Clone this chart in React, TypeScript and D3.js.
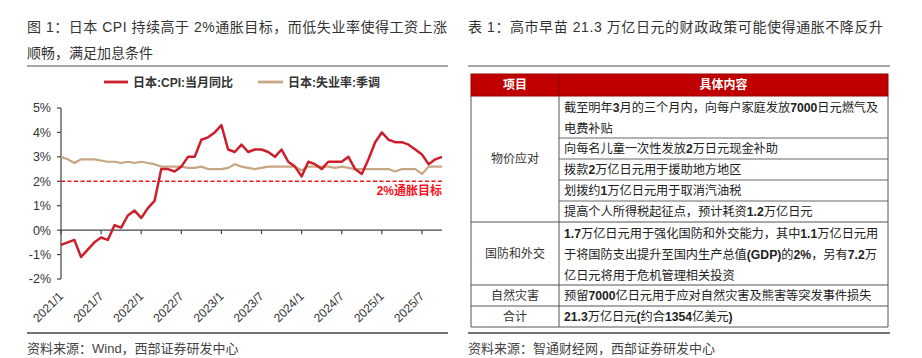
import React from "react";
import * as d3 from "d3";

// ---------- Data ----------
const cpiYoY: number[] = [
  -0.6, -0.5, -0.4, -1.1, -0.8, -0.5, -0.3, -0.4, 0.2, 0.1, 0.6, 0.8,
  0.5, 0.9, 1.2, 2.5, 2.5, 2.4, 2.6, 3.0, 3.0, 3.7, 3.8, 4.0,
  4.3, 3.3, 3.2, 3.5, 3.2, 3.3, 3.3, 3.2, 3.0, 3.3, 2.8, 2.6,
  2.2, 2.8, 2.7, 2.5, 2.8, 2.8, 2.8, 3.0, 2.5, 2.3, 2.9, 3.6,
  4.0, 3.7, 3.6, 3.6, 3.5, 3.3, 3.1, 2.7, 2.9, 3.0,
];
const unemployment: number[] = [
  3.0, 2.9, 2.75, 2.9, 2.9, 2.9, 2.85, 2.8, 2.8, 2.75, 2.8, 2.75,
  2.8, 2.75, 2.7, 2.6, 2.6, 2.6, 2.6, 2.55, 2.55, 2.6, 2.5, 2.5,
  2.5, 2.55, 2.7, 2.6, 2.55, 2.5, 2.55, 2.6, 2.6, 2.6, 2.6, 2.6,
  2.45, 2.6, 2.6, 2.6, 2.6, 2.55, 2.6, 2.55, 2.5, 2.5, 2.5, 2.5,
  2.5, 2.5, 2.4, 2.5, 2.5, 2.5, 2.3, 2.6, 2.6, 2.6,
];
const xTickLabels = [
  "2021/1", "2021/7", "2022/1", "2022/7", "2023/1",
  "2023/7", "2024/1", "2024/7", "2025/1", "2025/7",
];
const xTickStep = 6;
const yTicks = [-2, -1, 0, 1, 2, 3, 4, 5];
const inflationTarget = 2;
const targetLabel = "2%通胀目标";
const seriesNames = ["日本:CPI:当月同比", "日本:失业率:季调"];

const chartTitle1 = "图 1：日本 CPI 持续高于 2%通胀目标，而低失业率使得工资上涨";
const chartTitle2 = "顺畅，满足加息条件";
const chartSource = "资料来源：Wind，西部证券研发中心";

const tableTitle = "表 1：高市早苗 21.3 万亿日元的财政政策可能使得通胀不降反升";
const tableHeaders = ["项目", "具体内容"];
const tableGroupNames = ["物价应对", "国防和外交", "自然灾害", "合计"];
const tableGroupRows: string[][][] = [
  [
    ["截至明年3月的三个月内，向每户家庭发放7000日元燃气及", "电费补贴"],
    ["向每名儿童一次性发放2万日元现金补助"],
    ["拨款2万亿日元用于援助地方地区"],
    ["划拨约1万亿日元用于取消汽油税"],
    ["提高个人所得税起征点，预计耗资1.2万亿日元"],
  ],
  [
    [
      "1.7万亿日元用于强化国防和外交能力，其中1.1万亿日元用",
      "于将国防支出提升至国内生产总值(GDP)的2%，另有7.2万",
      "亿日元将用于危机管理相关投资",
    ],
  ],
  [["预留7000亿日元用于应对自然灾害及熊害等突发事件损失"]],
  [["21.3万亿日元(约合1354亿美元)"]],
];
const tableSource = "资料来源：智通财经网，西部证券研发中心";

// ---------- Styles ----------
const FONT = "'Liberation Sans', 'Noto Sans CJK SC', sans-serif";
const CPI_COLOR = "#cc1f2b";
const UNEMP_COLOR = "#c7a684";
const TARGET_COLOR = "#f2141c";
const TEXT = "#333";

// bold the ASCII runs (digits, latin, %, parentheses) like the reference
function richText(s: string, keyBase: string) {
  const parts = s.split(/([0-9A-Za-z.%()]+)/).filter((p) => p.length > 0);
  return parts.map((p, i) =>
    /^[0-9A-Za-z.%()]+$/.test(p) ? (
      <tspan key={`${keyBase}-${i}`} fontWeight="bold">
        {p}
      </tspan>
    ) : (
      <tspan key={`${keyBase}-${i}`}>{p}</tspan>
    )
  );
}

export default function App() {
  const x = d3.scaleLinear().domain([0, cpiYoY.length - 1]).range([61, 442]);
  const y = d3.scaleLinear().domain([-2, 5]).range([279, 108]);
  const line = d3
    .line<number>()
    .x((_, i) => x(i))
    .y((d) => y(d))
    .curve(d3.curveLinear);

  // table layout
  const tX0 = 471;
  const tX1 = 888;
  const tXDiv = 559;
  const headTop = 74;
  const headH = 22;
  const lineH = 21;

  const tableEls: React.ReactNode[] = [];
  let cy = headTop + headH;
  tableGroupRows.forEach((rows, gi) => {
    const gTop = cy;
    rows.forEach((lines, ri) => {
      const h = lines.length * lineH;
      const rTop = cy;
      lines.forEach((ln, li) => {
        const c = rTop + lineH / 2 + li * lineH + (lines.length > 1 ? 1.5 : 0);
        tableEls.push(
          <text key={`t${gi}-${ri}-${li}`} x={tXDiv + 5} y={c} dy="0.36em" fontSize={12.2} fill="#222">
            {richText(ln, `t${gi}-${ri}-${li}`)}
          </text>
        );
      });
      cy += h;
      if (ri < rows.length - 1) {
        tableEls.push(
          <line key={`rl${gi}-${ri}`} x1={tXDiv} x2={tX1} y1={cy} y2={cy} stroke="#666" strokeWidth={1} />
        );
      }
    });
    tableEls.push(
      <text key={`g${gi}`} x={(tX0 + tXDiv) / 2} y={(gTop + cy) / 2} dy="0.36em" fontSize={12} fill={TEXT} textAnchor="middle">
        {tableGroupNames[gi]}
      </text>
    );
    tableEls.push(
      <line key={`gl${gi}`} x1={tX0} x2={tX1} y1={cy} y2={cy} stroke="#555" strokeWidth={1} />
    );
  });
  const tableBottom = cy;

  return (
    <svg width={922} height={358} style={{ position: "absolute", left: 0, top: 0, background: "#fff" }} fontFamily={FONT}>
      {/* Left titles */}
      <text x={27} y={32} fontSize={14} fill={TEXT} textLength={420} lengthAdjust="spacing">
        {chartTitle1}
      </text>
      <text x={27} y={58} fontSize={14} fill={TEXT}>
        {chartTitle2}
      </text>
      <line x1={27} x2={448} y1={66} y2={66} stroke="#888" strokeWidth={1.5} />

      {/* Legend */}
      <line x1={104} x2={128} y1={82} y2={82} stroke={CPI_COLOR} strokeWidth={2.8} />
      <text x={133} y={86.5} fontSize={12} fontWeight="bold" fill={TEXT}>
        {seriesNames[0]}
      </text>
      <line x1={258} x2={283} y1={82} y2={82} stroke={UNEMP_COLOR} strokeWidth={2.8} />
      <text x={288} y={86.5} fontSize={12} fontWeight="bold" fill={TEXT}>
        {seriesNames[1]}
      </text>

      {/* Y axis */}
      <line x1={x(0)} x2={x(0)} y1={y(5)} y2={y(-2)} stroke="#444" strokeWidth={1.2} />
      {yTicks.map((t) => (
        <g key={`y${t}`}>
          <line x1={x(0) - 4} x2={x(0)} y1={y(t)} y2={y(t)} stroke="#444" strokeWidth={1.2} />
          <text x={51} y={y(t)} dy="0.35em" fontSize={12.5} fill={TEXT} textAnchor="end">
            {`${t}%`}
          </text>
        </g>
      ))}

      {/* X axis at 0 */}
      <line x1={x(0)} x2={x(cpiYoY.length - 1)} y1={y(0)} y2={y(0)} stroke="#444" strokeWidth={1.2} />
      {xTickLabels.map((lab, i) => {
        const xi = x(i * xTickStep);
        return (
          <g key={lab}>
            <line x1={xi} x2={xi} y1={y(0)} y2={y(0) + 4} stroke="#444" strokeWidth={1.2} />
            <text
              transform={`translate(${xi + 3},${297}) rotate(-45)`}
              fontSize={12}
              fill={TEXT}
              textAnchor="end"
            >
              {lab}
            </text>
          </g>
        );
      })}

      {/* Target line */}
      <line
        x1={x(0)}
        x2={x(cpiYoY.length - 1)}
        y1={y(inflationTarget)}
        y2={y(inflationTarget)}
        stroke={TARGET_COLOR}
        strokeWidth={1.5}
        strokeDasharray="4,2.5"
      />
      <text
        x={x(cpiYoY.length - 1)}
        y={y(inflationTarget) + 14}
        fontSize={12}
        fontWeight="bold"
        fill={TARGET_COLOR}
        textAnchor="end"
      >
        {targetLabel}
      </text>

      {/* Series */}
      <path d={line(unemployment) || ""} fill="none" stroke={UNEMP_COLOR} strokeWidth={2.2} strokeLinejoin="round" />
      <path d={line(cpiYoY) || ""} fill="none" stroke={CPI_COLOR} strokeWidth={2.5} strokeLinejoin="round" />

      {/* Left bottom */}
      <line x1={27} x2={448} y1={333} y2={333} stroke="#444" strokeWidth={1.5} />
      <text x={27} y={352.5} fontSize={13} fill="#444">
        {chartSource}
      </text>

      {/* Right title */}
      <text x={468} y={32} fontSize={14} fill={TEXT} textLength={415} lengthAdjust="spacing">
        {tableTitle}
      </text>
      <line x1={468} x2={890} y1={66} y2={66} stroke="#888" strokeWidth={1.5} />

      {/* Table header */}
      <rect x={tX0} y={headTop} width={tX1 - tX0} height={headH} fill="#c00000" stroke="#900" strokeWidth={1} />
      <line x1={tXDiv} x2={tXDiv} y1={headTop} y2={headTop + headH} stroke="#8a0000" strokeWidth={1} />
      <text x={(tX0 + tXDiv) / 2} y={headTop + headH / 2} dy="0.36em" fontSize={12} fontWeight="bold" fill="#fff" textAnchor="middle">
        {tableHeaders[0]}
      </text>
      <text x={(tXDiv + tX1) / 2} y={headTop + headH / 2} dy="0.36em" fontSize={12} fontWeight="bold" fill="#fff" textAnchor="middle">
        {tableHeaders[1]}
      </text>

      {/* Table body */}
      {tableEls}
      <line x1={tX0} x2={tX0} y1={headTop + headH} y2={tableBottom} stroke="#555" strokeWidth={1} />
      <line x1={tX1} x2={tX1} y1={headTop + headH} y2={tableBottom} stroke="#555" strokeWidth={1} />
      <line x1={tXDiv} x2={tXDiv} y1={headTop + headH} y2={tableBottom} stroke="#555" strokeWidth={1} />
      <line x1={468} x2={890} y1={333} y2={333} stroke="#444" strokeWidth={1.5} />
      <text x={468} y={352.5} fontSize={13} fill="#444">
        {tableSource}
      </text>
    </svg>
  );
}
